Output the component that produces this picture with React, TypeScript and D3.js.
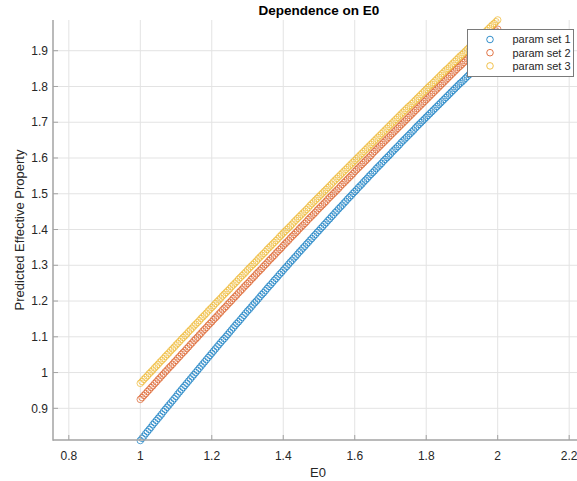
import React from "react";
import * as d3 from "d3";

const E0 = [
  1.000,1.005,1.010,1.015,1.020,1.025,1.030,1.035,1.040,1.045,1.050,1.055,1.060,1.065,1.070,1.075,1.080,1.085,1.090,1.095,
  1.100,1.105,1.110,1.115,1.120,1.125,1.130,1.135,1.140,1.145,1.150,1.155,1.160,1.165,1.170,1.175,1.180,1.185,1.190,1.195,
  1.200,1.205,1.210,1.215,1.220,1.225,1.230,1.235,1.240,1.245,1.250,1.255,1.260,1.265,1.270,1.275,1.280,1.285,1.290,1.295,
  1.300,1.305,1.310,1.315,1.320,1.325,1.330,1.335,1.340,1.345,1.350,1.355,1.360,1.365,1.370,1.375,1.380,1.385,1.390,1.395,
  1.400,1.405,1.410,1.415,1.420,1.425,1.430,1.435,1.440,1.445,1.450,1.455,1.460,1.465,1.470,1.475,1.480,1.485,1.490,1.495,
  1.500,1.505,1.510,1.515,1.520,1.525,1.530,1.535,1.540,1.545,1.550,1.555,1.560,1.565,1.570,1.575,1.580,1.585,1.590,1.595,
  1.600,1.605,1.610,1.615,1.620,1.625,1.630,1.635,1.640,1.645,1.650,1.655,1.660,1.665,1.670,1.675,1.680,1.685,1.690,1.695,
  1.700,1.705,1.710,1.715,1.720,1.725,1.730,1.735,1.740,1.745,1.750,1.755,1.760,1.765,1.770,1.775,1.780,1.785,1.790,1.795,
  1.800,1.805,1.810,1.815,1.820,1.825,1.830,1.835,1.840,1.845,1.850,1.855,1.860,1.865,1.870,1.875,1.880,1.885,1.890,1.895,
  1.900,1.905,1.910,1.915,1.920,1.925,1.930,1.935,1.940,1.945,1.950,1.955,1.960,1.965,1.970,1.975,1.980,1.985,1.990,1.995,
  2.000,
];

const set1 = [
  0.810,0.816,0.822,0.829,0.835,0.841,0.847,0.854,0.860,0.866,0.872,0.878,0.884,0.891,0.897,0.903,0.909,0.915,0.921,0.927,
  0.933,0.940,0.946,0.952,0.958,0.964,0.970,0.976,0.982,0.988,0.994,1.000,1.006,1.012,1.018,1.024,1.030,1.036,1.042,1.048,
  1.054,1.060,1.066,1.072,1.078,1.084,1.090,1.095,1.101,1.107,1.113,1.119,1.125,1.131,1.137,1.142,1.148,1.154,1.160,1.166,
  1.172,1.177,1.183,1.189,1.195,1.200,1.206,1.212,1.218,1.223,1.229,1.235,1.241,1.246,1.252,1.258,1.263,1.269,1.275,1.280,
  1.286,1.292,1.297,1.303,1.309,1.314,1.320,1.325,1.331,1.337,1.342,1.348,1.353,1.359,1.364,1.370,1.375,1.381,1.386,1.392,
  1.397,1.403,1.408,1.414,1.419,1.425,1.430,1.436,1.441,1.447,1.452,1.458,1.463,1.468,1.474,1.479,1.485,1.490,1.495,1.501,
  1.506,1.511,1.517,1.522,1.527,1.533,1.538,1.543,1.549,1.554,1.559,1.564,1.570,1.575,1.580,1.585,1.591,1.596,1.601,1.606,
  1.611,1.617,1.622,1.627,1.632,1.637,1.643,1.648,1.653,1.658,1.663,1.668,1.673,1.678,1.684,1.689,1.694,1.699,1.704,1.709,
  1.714,1.719,1.724,1.729,1.734,1.739,1.744,1.749,1.754,1.759,1.764,1.769,1.774,1.779,1.784,1.789,1.794,1.799,1.804,1.809,
  1.813,1.818,1.823,1.828,1.833,1.838,1.843,1.848,1.852,1.857,1.862,1.867,1.872,1.877,1.881,1.886,1.891,1.896,1.900,1.905,
  1.910,
];

const set2 = [
  0.925,0.930,0.936,0.941,0.947,0.952,0.958,0.963,0.969,0.974,0.980,0.985,0.991,0.996,1.002,1.007,1.013,1.018,1.023,1.029,
  1.034,1.040,1.045,1.051,1.056,1.061,1.067,1.072,1.078,1.083,1.089,1.094,1.099,1.105,1.110,1.116,1.121,1.126,1.132,1.137,
  1.142,1.148,1.153,1.158,1.164,1.169,1.175,1.180,1.185,1.191,1.196,1.201,1.207,1.212,1.217,1.223,1.228,1.233,1.239,1.244,
  1.249,1.254,1.260,1.265,1.270,1.276,1.281,1.286,1.291,1.297,1.302,1.307,1.313,1.318,1.323,1.328,1.334,1.339,1.344,1.349,
  1.355,1.360,1.365,1.370,1.376,1.381,1.386,1.391,1.396,1.402,1.407,1.412,1.417,1.422,1.428,1.433,1.438,1.443,1.448,1.454,
  1.459,1.464,1.469,1.474,1.479,1.485,1.490,1.495,1.500,1.505,1.510,1.515,1.521,1.526,1.531,1.536,1.541,1.546,1.551,1.556,
  1.562,1.567,1.572,1.577,1.582,1.587,1.592,1.597,1.602,1.607,1.613,1.618,1.623,1.628,1.633,1.638,1.643,1.648,1.653,1.658,
  1.663,1.668,1.673,1.678,1.683,1.688,1.693,1.698,1.703,1.708,1.713,1.718,1.723,1.728,1.733,1.738,1.743,1.748,1.753,1.758,
  1.763,1.768,1.773,1.778,1.783,1.788,1.793,1.798,1.803,1.808,1.813,1.818,1.823,1.828,1.833,1.838,1.843,1.848,1.853,1.857,
  1.862,1.867,1.872,1.877,1.882,1.887,1.892,1.897,1.902,1.906,1.911,1.916,1.921,1.926,1.931,1.936,1.941,1.945,1.950,1.955,
  1.960,
];

const set3 = [
  0.970,0.975,0.981,0.986,0.991,0.997,1.002,1.007,1.013,1.018,1.023,1.029,1.034,1.039,1.045,1.050,1.055,1.061,1.066,1.071,
  1.077,1.082,1.087,1.093,1.098,1.103,1.108,1.114,1.119,1.124,1.130,1.135,1.140,1.145,1.151,1.156,1.161,1.166,1.172,1.177,
  1.182,1.187,1.193,1.198,1.203,1.208,1.214,1.219,1.224,1.229,1.234,1.240,1.245,1.250,1.255,1.261,1.266,1.271,1.276,1.281,
  1.287,1.292,1.297,1.302,1.307,1.312,1.318,1.323,1.328,1.333,1.338,1.344,1.349,1.354,1.359,1.364,1.369,1.374,1.380,1.385,
  1.390,1.395,1.400,1.405,1.410,1.415,1.421,1.426,1.431,1.436,1.441,1.446,1.451,1.456,1.461,1.467,1.472,1.477,1.482,1.487,
  1.492,1.497,1.502,1.507,1.512,1.517,1.522,1.527,1.533,1.538,1.543,1.548,1.553,1.558,1.563,1.568,1.573,1.578,1.583,1.588,
  1.593,1.598,1.603,1.608,1.613,1.618,1.623,1.628,1.633,1.638,1.643,1.648,1.653,1.658,1.663,1.668,1.673,1.678,1.683,1.688,
  1.693,1.698,1.703,1.708,1.713,1.718,1.723,1.728,1.733,1.738,1.743,1.747,1.752,1.757,1.762,1.767,1.772,1.777,1.782,1.787,
  1.792,1.797,1.802,1.806,1.811,1.816,1.821,1.826,1.831,1.836,1.841,1.846,1.850,1.855,1.860,1.865,1.870,1.875,1.880,1.885,
  1.889,1.894,1.899,1.904,1.909,1.914,1.919,1.923,1.928,1.933,1.938,1.943,1.948,1.952,1.957,1.962,1.967,1.972,1.976,1.981,
  1.986,
];

const seriesNames = ["param set 1", "param set 2", "param set 3"];
const seriesColors = ["#0072BD", "#D95319", "#EDB120"];
const xTicks = [0.8, 1, 1.2, 1.4, 1.6, 1.8, 2, 2.2];
const yTicks = [0.9, 1, 1.1, 1.2, 1.3, 1.4, 1.5, 1.6, 1.7, 1.8, 1.9];

const W = 577;
const H = 481;

export default function App() {
  const x = d3.scaleLinear().domain([1, 2]).range([140.3, 497.7]);
  const y = d3.scaleLinear().domain([0.8114, 1.9859]).range([440, 20]);
  const left = 53;
  const top = 20;
  const bottom = 440;
  const right = W + 20;
  const series = [set1, set2, set3];
  const axisColor = "#a3a3a3";
  const textColor = "#262626";
  const font = "Liberation Sans, Arial, Helvetica, sans-serif";

  return (
    <svg
      width={W}
      height={H}
      style={{ position: "absolute", left: 0, top: 0, background: "#fff" }}
      fontFamily={font}
    >
      <rect x={0} y={0} width={W} height={H} fill="#fff" />
      <g stroke="#e3e3e3" strokeWidth={1}>
        {xTicks.map((t) => (
          <line key={"gx" + t} x1={x(t)} x2={x(t)} y1={top} y2={bottom} />
        ))}
        {yTicks.map((t) => (
          <line key={"gy" + t} x1={left} x2={right} y1={y(t)} y2={y(t)} />
        ))}
      </g>
      {series.map((s, si) => (
        <g key={"s" + si} fill="none" stroke={seriesColors[si]} strokeWidth={0.65}>
          {s.slice(0, E0.length).map((v, i) => (
            <circle key={i} cx={x(E0[i])} cy={y(v)} r={3.3} />
          ))}
        </g>
      ))}
      <g stroke={axisColor}>
        <line x1={left} x2={left} y1={top} y2={bottom + 0.75} strokeWidth={1.5} />
        <line x1={left} x2={right} y1={bottom} y2={bottom} strokeWidth={1.5} />
        {yTicks.map((t) => (
          <line key={"ty" + t} x1={left} x2={left + 5} y1={y(t)} y2={y(t)} strokeWidth={1} />
        ))}
        {xTicks.map((t) => (
          <line key={"tx" + t} x1={x(t)} x2={x(t)} y1={bottom} y2={bottom - 5} strokeWidth={1} />
        ))}
      </g>
      <g fill={textColor} fontSize={12}>
        {yTicks.map((t) => (
          <text key={"ly" + t} x={48} y={y(t)} dy="0.35em" textAnchor="end">
            {d3.format("~g")(t)}
          </text>
        ))}
        {xTicks.map((t) => (
          <text key={"lx" + t} x={x(t)} y={460} textAnchor="middle">
            {d3.format("~g")(t)}
          </text>
        ))}
      </g>
      <text x={318} y={477} textAnchor="middle" fontSize={13} fill={textColor}>
        E0
      </text>
      <text
        transform={`translate(24,230) rotate(-90)`}
        textAnchor="middle"
        fontSize={13}
        fill={textColor}
      >
        Predicted Effective Property
      </text>
      <text x={319} y={15} textAnchor="middle" fontSize={13.5} fontWeight="bold" fill="#000">
        Dependence on E0
      </text>
      <g>
        <rect x={467.5} y={29.5} width={106} height={47} fill="#fff" stroke="#7a7a7a" strokeWidth={1} />
        {seriesNames.map((n, i) => (
          <g key={n}>
            <circle cx={490} cy={39.5 + i * 13.2} r={3.3} fill="none" stroke={seriesColors[i]} strokeWidth={0.8} />
            <text x={512.5} y={39.5 + i * 13.2} dy="0.35em" fontSize={11} fill={textColor}>
              {n}
            </text>
          </g>
        ))}
      </g>
    </svg>
  );
}
